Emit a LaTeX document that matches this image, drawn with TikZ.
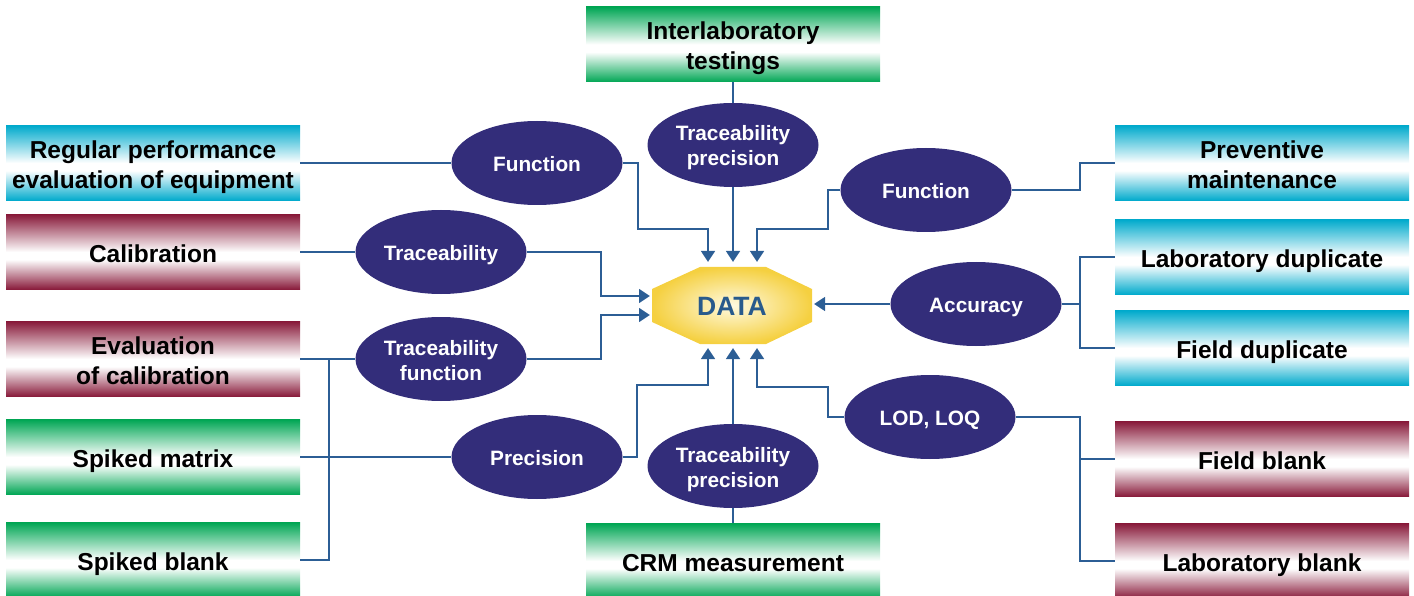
\documentclass[tikz,border=0pt]{standalone}
\usepackage{fontspec}
\setmainfont{Liberation Sans}
\usetikzlibrary{shapes.geometric,arrows.meta}
\definecolor{grn}{RGB}{0,166,84}
\definecolor{cyn}{RGB}{0,170,204}
\definecolor{mar}{RGB}{136,26,58}
\definecolor{navy}{RGB}{51,45,122}
\definecolor{lineblue}{RGB}{44,94,149}
\definecolor{yel}{RGB}{245,208,64}
\definecolor{yelc}{RGB}{255,250,225}
\definecolor{datablue}{RGB}{40,90,140}
\pgfdeclareverticalshading{greenbar}{100bp}{color(0bp)=(grn); color(25bp)=(grn); color(45bp)=(white); color(50bp)=(white); color(75bp)=(grn); color(100bp)=(grn)}
\pgfdeclareverticalshading{cyanbar}{100bp}{color(0bp)=(cyn); color(25bp)=(cyn); color(45bp)=(white); color(50bp)=(white); color(75bp)=(cyn); color(100bp)=(cyn)}
\pgfdeclareverticalshading{marbar}{100bp}{color(0bp)=(mar); color(25bp)=(mar); color(45bp)=(white); color(50bp)=(white); color(75bp)=(mar); color(100bp)=(mar)}
\newcommand\btop{\rule{0pt}{26.6pt}}
\newcommand\bbot{\rule[-6pt]{0pt}{6pt}}
\newcommand\otop{\rule{0pt}{22.5pt}}
\newcommand\obot{\rule[-5.5pt]{0pt}{5.5pt}}
\tikzset{
  box/.style={rectangle, minimum width=294pt, minimum height=75pt, inner sep=0pt,
    font=\fontsize{24.5}{30}\selectfont\bfseries, align=center, text=black},
  gbox/.style={box, shading=greenbar},
  cbox/.style={box, shading=cyanbar},
  mbox/.style={box, shading=marbar},
  oval/.style={ellipse, fill=navy, minimum width=171pt, minimum height=84pt, inner sep=0pt,
    text=white, font=\fontsize{20.8}{25}\selectfont\bfseries, align=center},
  conn/.style={draw=lineblue, line width=2.8pt},
  arr/.style={conn, -{Triangle[length=11pt,width=13.5pt]}}
}
\begin{document}
\begin{tikzpicture}[x=1pt,y=-1pt]
\useasboundingbox (0,0) rectangle (1414,596);
% boxes
\node[cbox] (rpe) at (153,163) {\btop Regular performance\\evaluation of equipment\bbot};
\node[mbox] (cal) at (153,252) {\btop Calibration\bbot};
\node[mbox] (eoc) at (153,359) {\btop Evaluation\\of calibration\bbot};
\node[gbox] (sm) at (153,457) {\btop Spiked matrix\bbot};
\node[gbox] (sb) at (153,560) {\btop Spiked blank\bbot};
\node[gbox] (ilt) at (733,44.5) {\btop Interlaboratory\\testings\bbot};
\node[gbox] (crm) at (733,561) {\btop CRM measurement\bbot};
\node[cbox] (pm) at (1262,163) {\btop Preventive\\maintenance\bbot};
\node[cbox] (ld) at (1262,257) {\btop Laboratory duplicate\bbot};
\node[cbox] (fd) at (1262,348) {\btop Field duplicate\bbot};
\node[mbox] (fb) at (1262,459) {\btop Field blank\bbot};
\node[mbox] (lb) at (1262,561) {\btop Laboratory blank\bbot};
% ellipses
\node[oval] (fl) at (537,163) {\otop Function\obot};
\node[oval] (tpt) at (733,145) {\otop Traceability\\precision\obot};
\node[oval] (fr) at (926,190) {\otop Function\obot};
\node[oval] (tr) at (441,252) {\otop Traceability\obot};
\node[oval] (tf) at (441,359) {\otop Traceability\\function\obot};
\node[oval] (pr) at (537,457) {\otop Precision\obot};
\node[oval] (tpb) at (733,466) {\otop Traceability\\precision\obot};
\node[oval] (acc) at (976,304) {\otop Accuracy\obot};
\node[oval] (lod) at (930,417) {\otop LOD, LOQ\obot};
% data octagon
\shade[inner color=yelc, outer color=yel] (700,267) -- (766,267) -- (812,289) -- (812,322) -- (766,344) -- (700,344) -- (652,322) -- (652,289) -- cycle;
\node[font=\fontsize{26.5}{30}\selectfont\bfseries, text=datablue] (data) at (732,306) {DATA};
\coordinate (t1) at (708,262);
\coordinate (t2) at (733,262);
\coordinate (t3) at (757,262);
\coordinate (b1) at (708,348);
\coordinate (b2) at (733,348);
\coordinate (b3) at (757,348);
\coordinate (l1) at (650,296);
\coordinate (l2) at (650,315);
\coordinate (r1) at (814,304);
% connectors
\draw[conn] (rpe.east) -- (fl.west);
\draw[arr] (fl.east) -- (638,163) -- (638,229) -| (t1);
\draw[conn] (ilt.south) -- (tpt.north);
\draw[arr] (tpt.south) -- (t2);
\draw[conn] (pm.west) -- (1080,163) -- (1080,190) -- (fr.east);
\draw[arr] (fr.west) -- (828,190) -- (828,229) -| (t3);
\draw[conn] (cal.east) -- (tr.west);
\draw[arr] (tr.east) -- (601,252) |- (l1);
\draw[conn] (eoc.east) -- (tf.west);
\draw[conn] (329,359) -- (329,560) -- (sb.east);
\draw[conn] (sm.east) -- (pr.west);
\draw[arr] (tf.east) -- (601,359) |- (l2);
\draw[arr] (pr.east) -- (637,457) -- (637,385) -| (b1);
\draw[conn] (crm.north) -- (tpb.south);
\draw[arr] (tpb.north) -- (b2);
\draw[arr] (lod.west) -- (828,417) -- (828,387) -| (b3);
\draw[conn] (lod.east) -- (1080,417) |- (lb.west);
\draw[conn] (1080,459) -- (fb.west);
\draw[conn] (acc.east) -- (1080,304);
\draw[conn] (ld.west) -- (1080,257) |- (fd.west);
\draw[arr] (acc.west) -- (r1);
\end{tikzpicture}
\end{document}
